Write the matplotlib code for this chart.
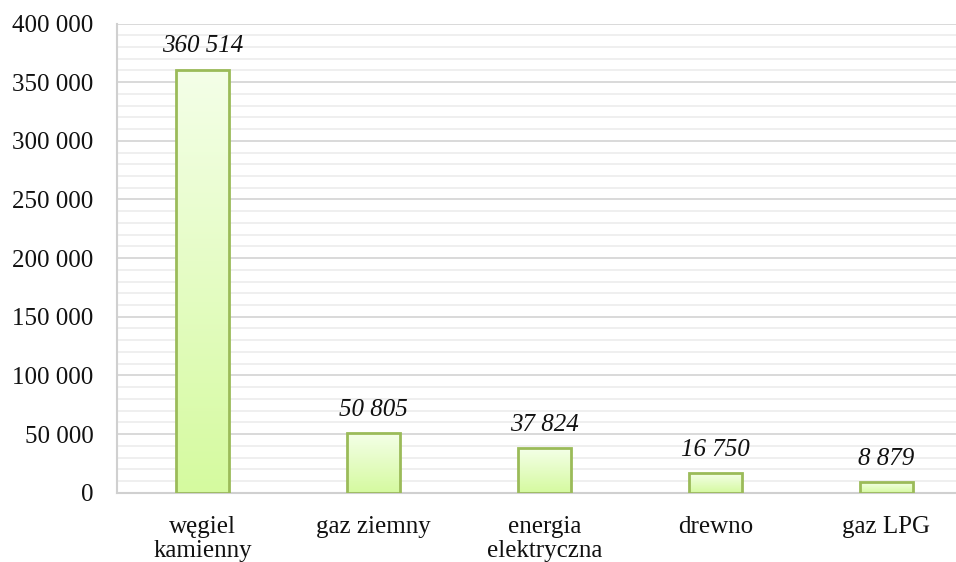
import numpy as np
import matplotlib
matplotlib.use("Agg")
import matplotlib.pyplot as plt
from matplotlib.colors import LinearSegmentedColormap

categories = ["węgiel\nkamienny", "gaz ziemny", "energia\nelektryczna", "drewno", "gaz LPG"]
values = [360514, 50805, 37824, 16750, 8879]
value_labels = ["360 514", "50 805", "37 824", "16 750", "8 879"]
yticks = [0, 50000, 100000, 150000, 200000, 250000, 300000, 350000, 400000]
ytick_labels = ["0", "50 000", "100 000", "150 000", "200 000", "250 000", "300 000", "350 000", "400 000"]

plt.rcParams['font.family'] = ['Liberation Serif', 'DejaVu Serif']

W, H = 956, 562
fig = plt.figure(figsize=(W / 100, H / 100), dpi=100)
ax_left, ax_right = 117, 956
ax_bottom_px, ax_top_px = 492.7, 23.5
ax = fig.add_axes([ax_left / W, 1 - ax_bottom_px / H, (ax_right - ax_left) / W, (ax_bottom_px - ax_top_px) / H])

x = np.arange(len(categories))
spacing = 171.0

# gridlines
ax.set_yticks(yticks)
ax.set_yticks(np.arange(0, 400001, 10000), minor=True)
ax.yaxis.grid(True, which='major', color='#d9d9d9', linewidth=1.4, zorder=0)
ax.yaxis.grid(True, which='minor', color='#ececec', linewidth=1.2, zorder=0)
ax.set_axisbelow(True)

cmap = LinearSegmentedColormap.from_list("g", ["#d5fa9f", "#f4ffe8"])
grad = np.linspace(0, 1, 256).reshape(-1, 1)

bars = ax.bar(x, values, width=0.31, facecolor='none', edgecolor='#9bbb59', linewidth=2.0, zorder=3)
for b in bars:
    x0, y0 = b.get_x(), b.get_y()
    w, h = b.get_width(), b.get_height()
    im = ax.imshow(grad, cmap=cmap, origin='lower', aspect='auto',
                   extent=(x0, x0 + w, y0, y0 + h), zorder=2, interpolation='bilinear')
    im.set_clip_path(b)

ax.set_xlim(-0.5, -0.5 + (ax_right - ax_left) / spacing)
ax.set_ylim(0, 400000)

for xi, v, lab in zip(x, values, value_labels):
    ax.annotate(lab, (xi, v), xytext=(0, 12.5), textcoords='offset points',
                ha='center', va='baseline', fontsize=18, fontstyle='italic', color='#111111')

ax.set_yticklabels(ytick_labels, fontsize=18, color='#111111')
ax.set_xticks(x)
ax.set_xticklabels(categories, fontsize=18, color='#111111', linespacing=1.08)
ax.tick_params(axis='y', which='both', length=0, pad=17)
ax.tick_params(axis='x', which='both', length=0, pad=17)

for s in ['top', 'right']:
    ax.spines[s].set_visible(False)
ax.spines['left'].set_color('#d0d0d0')
ax.spines['left'].set_linewidth(1.5)
ax.spines['bottom'].set_color('#d0d0d0')
ax.spines['bottom'].set_linewidth(1.5)

fig.savefig("out.png", dpi=100)
